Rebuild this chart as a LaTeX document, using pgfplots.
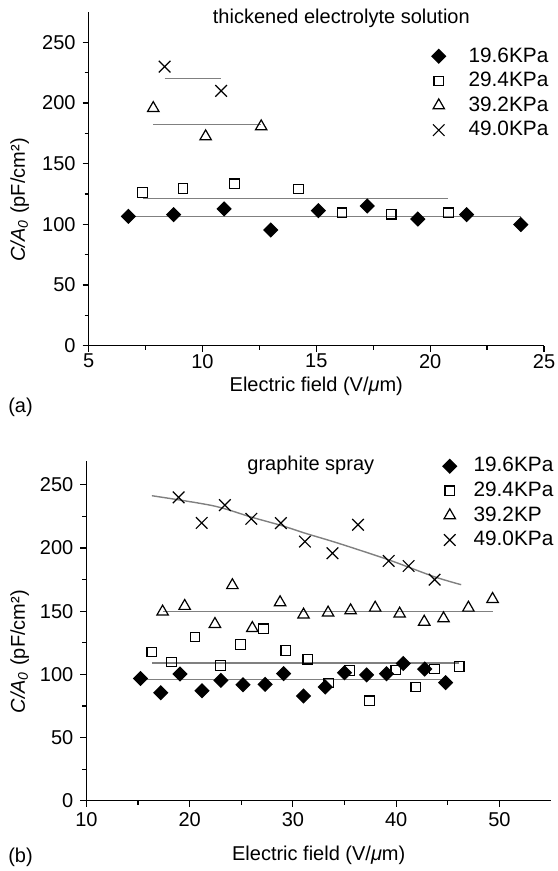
\documentclass[border=0pt]{standalone}
\usepackage{fontspec}
\setmainfont{Liberation Sans}
\usepackage{pgfplots}
\pgfplotsset{compat=1.18}

\pgfplotsset{
 mystyle/.style={
  scale only axis,
  axis lines=left,
  axis line style={-, line width=0.6pt},
  tick align=outside,
  tick style={line width=0.6pt, black},
  major tick length=3pt,
  minor tick length=2pt,
  minor tick num=1,
  /pgf/number format/assume math mode=true,
  ytick={0,50,...,250},
  clip=false,
  legend style={draw=none, fill=none, inner sep=0pt, outer sep=0pt, row sep=1pt, column sep=8pt,
    font=\fontsize{10.4}{12}\selectfont,
    nodes={inner sep=1pt, text height=7.5pt, text depth=1.8pt}},
  legend cell align=left,
 },
 fit/.style={color=black!50, line width=0.7pt, forget plot, mark=none},
 s1/.style={only marks, mark=square*, mark size=2.4pt, mark options={rotate=45, fill=black, draw=black, line width=0.6pt}},
 s2/.style={only marks, mark=square, mark size=2.4pt, mark options={black, line width=0.6pt}},
 s3/.style={only marks, mark=triangle, mark size=3.3pt, mark options={black, line width=0.6pt}},
 s4/.style={only marks, mark=x, mark size=4.1pt, mark options={black, line width=0.6pt}},
}

\begin{document}
\begin{tikzpicture}[font=\fontsize{10}{12}\selectfont]
\useasboundingbox (0,0) rectangle (278.5pt,-435.5pt);

% ---------- (a) ----------
\begin{axis}[mystyle,
  at={(44.3pt,-172.85pt)}, anchor=south west,
  width=227.7pt, height=166.85pt,
  xmin=5, xmax=25, ymin=0, ymax=275,
  xtick={5,10,...,25},
  xticklabel style={inner sep=1pt},
  xlabel={Electric field (V/\textit{μ}m)},
  ylabel={\textit{C/A}\textsubscript{\textit{0}} (pF/cm²)},
  xlabel style={at={(axis description cs:0.5,-0.1229)}, anchor=center},
  ylabel style={at={(axis description cs:-0.1515,0.437)}, anchor=center},
  legend style={at={(axis description cs:0.754,0.901)}, anchor=north west, column sep=10.5pt},
]
\addplot[s1] coordinates {(6.75,106.6) (8.73,108) (10.95,112.7) (13.0,95.4) (15.09,111.3) (17.24,115.1) (19.46,104.4) (21.6,108) (23.98,99.8)};
\addlegendentry{19.6KPa}
\addplot[s2] coordinates {(7.36,126.1) (9.15,129.4) (11.41,133.5) (14.22,129.1) (16.13,109.6) (18.29,108.3) (20.81,109.6)};
\addlegendentry{29.4KPa}
\addplot[s3] coordinates {(7.84,195.7) (10.14,172.4) (12.58,180.6)};
\addlegendentry{39.2KPa}
\addplot[s4] coordinates {(8.34,230) (10.82,210)};
\addlegendentry{49.0KPa}
\addplot[fit] coordinates {(6.75,106.6) (24.0,106.6)};
\addplot[fit] coordinates {(7.4,121.2) (20.8,121.2)};
\addplot[fit] coordinates {(7.84,182.3) (12.58,182.3)};
\addplot[fit] coordinates {(8.34,220) (10.82,220)};
\node at (axis description cs:0.555,0.981) {thickened electrolyte solution};
\end{axis}
\node at (10.25pt,-203.5pt) {(a)};

% ---------- (b) ----------
\begin{axis}[mystyle,
  at={(43.2pt,-400.35pt)}, anchor=south west,
  width=232.3pt, height=170pt,
  xmin=10, xmax=55, ymin=0, ymax=269,
  xtick={10,20,...,50},
  xticklabel style={inner sep=2.5pt},
  xlabel={Electric field (V/\textit{μ}m)},
  ylabel={\textit{C/A}\textsubscript{\textit{0}} (pF/cm²)},
  xlabel style={at={(axis description cs:0.5,-0.1597)}, anchor=center},
  ylabel style={at={(axis description cs:-0.1438,0.438)}, anchor=center},
  legend style={at={(axis description cs:0.7675,1.017)}, anchor=north west, column sep=7.5pt},
]
\addplot[s1] coordinates {(15.24,96.6) (17.21,85.4) (19.07,100.3) (21.2,87) (23.03,95.2) (25.17,91.8) (27.31,92.1) (29.1,100.5) (31.03,82.8) (33.14,90) (35.0,101.3) (37.14,99.5) (39.07,100.5) (40.69,108.5) (42.76,104.2) (44.79,93.4)};
\addlegendentry{19.6KPa}
\addplot[s2] coordinates {(16.34,117.7) (18.24,109.8) (20.52,129.6) (23.0,106.9) (24.93,123.5) (27.17,136) (29.31,118.8) (31.45,111.9) (33.48,93.1) (35.48,102.9) (37.41,79.1) (39.97,103.4) (41.9,89.9) (43.72,104.2) (46.1,106.3)};
\addlegendentry{29.4KPa}
\addplot[s3] coordinates {(17.38,149.5) (19.52,154) (22.45,139.7) (24.14,170.4) (26.07,136.5) (28.76,156.9) (31.03,147.1) (33.41,148.7) (35.59,150.5) (37.97,152.6) (40.34,147.9) (42.72,141.5) (44.59,144.2) (47.0,152.6) (49.34,159.5)};
\addlegendentry{39.2KP}
\addplot[s4] coordinates {(18.93,240) (21.17,219.8) (23.41,233.9) (25.97,223) (28.83,219.6) (31.17,205) (33.83,195.8) (36.31,218.3) (39.28,189.7) (41.21,185.7) (43.72,174.9)};
\addlegendentry{49.0KPa}
\addplot[fit] coordinates {(15.24,95.8) (44.79,95.8)};
\addplot[fit] coordinates {(16.34,109) (46.1,109)};
\addplot[fit] coordinates {(17.38,149.5) (49.34,149.5)};
\addplot[fit, smooth] coordinates {(16.34,241.3) (22.3,233.3) (26,224.3) (28.9,217.7) (31.2,211.6) (34.4,203.7) (39.3,190.5) (43.7,177.2) (46.3,170.9)};
\node at (axis description cs:0.483,0.987) {graphite spray};
\end{axis}
\node at (10.25pt,-428.5pt) {(b)};
\end{tikzpicture}
\end{document}
